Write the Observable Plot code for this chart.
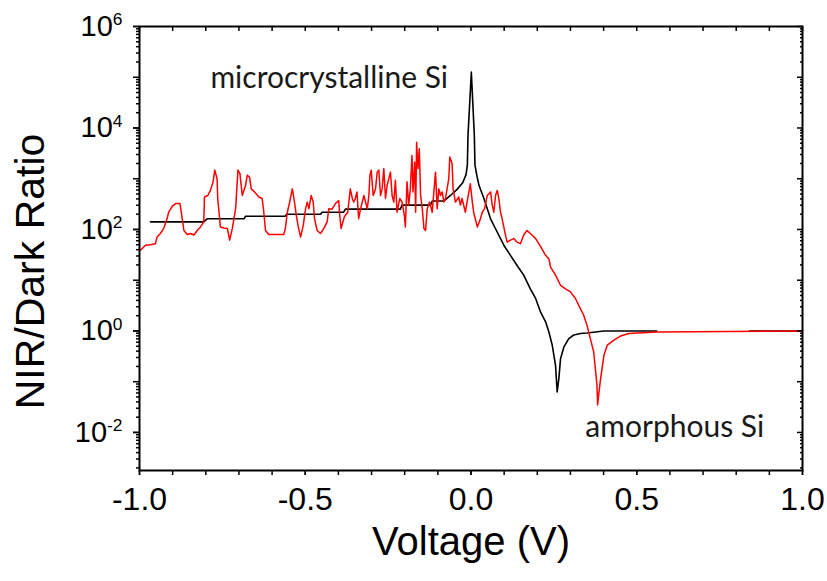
<!DOCTYPE html>
<html><head><meta charset="utf-8">
<script src="https://cdn.jsdelivr.net/npm/d3@7"></script>
<script src="https://cdn.jsdelivr.net/npm/@observablehq/plot@0.6"></script>
<style>body{margin:0;background:#fff}</style>
</head><body><div id="chart"></div>
<script>
// Voltage (V) and log10(NIR/Dark ratio)
const amorphousSi = [
[-0.997,1.59],[-0.982,1.69],[-0.967,1.70],[-0.952,1.72],[-0.947,1.85],[-0.937,1.92],[-0.927,2.02],[-0.917,2.21],[-0.912,2.34],[-0.901,2.46],
[-0.891,2.51],[-0.878,2.51],[-0.874,2.34],[-0.866,1.98],[-0.856,1.90],[-0.846,1.92],[-0.836,1.89],[-0.826,1.98],[-0.816,2.05],[-0.806,2.15],
[-0.804,2.64],[-0.794,2.67],[-0.786,2.77],[-0.778,2.94],[-0.773,3.17],[-0.766,3.00],[-0.764,2.61],[-0.756,2.05],[-0.746,2.03],[-0.735,2.02],
[-0.728,1.79],[-0.720,2.02],[-0.710,2.41],[-0.703,3.17],[-0.697,3.10],[-0.690,2.67],[-0.680,2.87],[-0.675,3.07],[-0.668,3.03],[-0.663,2.80],
[-0.653,2.74],[-0.640,2.64],[-0.630,2.61],[-0.625,2.34],[-0.620,1.98],[-0.610,1.90],[-0.585,1.90],[-0.565,1.90],[-0.560,2.02],[-0.554,2.34],
[-0.547,2.54],[-0.539,2.80],[-0.534,2.61],[-0.527,2.28],[-0.521,2.05],[-0.514,1.85],[-0.506,2.08],[-0.499,2.41],[-0.494,2.54],[-0.489,2.41],
[-0.482,2.67],[-0.476,2.54],[-0.472,2.21],[-0.464,1.98],[-0.454,1.92],[-0.444,2.02],[-0.434,2.15],[-0.429,2.41],[-0.419,2.40],[-0.409,2.51],
[-0.399,2.57],[-0.396,2.28],[-0.392,2.02],[-0.382,2.25],[-0.372,2.34],[-0.364,2.80],[-0.358,2.61],[-0.354,2.54],[-0.349,2.61],[-0.344,2.74],
[-0.339,2.21],[-0.333,2.41],[-0.323,2.67],[-0.318,2.54],[-0.313,2.41],[-0.308,2.67],[-0.305,3.07],[-0.301,3.17],[-0.295,2.67],[-0.288,2.80],
[-0.283,3.13],[-0.278,3.17],[-0.273,2.67],[-0.268,2.80],[-0.263,3.20],[-0.258,2.61],[-0.253,2.87],[-0.248,3.00],[-0.243,3.13],[-0.238,2.67],
[-0.233,2.54],[-0.228,2.97],[-0.223,2.34],[-0.215,2.61],[-0.208,2.54],[-0.201,2.28],[-0.198,2.05],[-0.193,2.94],[-0.188,2.48],[-0.183,2.80],
[-0.178,3.46],[-0.175,2.74],[-0.170,3.33],[-0.167,2.34],[-0.164,3.72],[-0.160,3.20],[-0.156,3.59],[-0.152,2.67],[-0.147,2.41],[-0.142,2.02],
[-0.137,1.98],[-0.132,2.41],[-0.125,2.54],[-0.117,2.34],[-0.112,2.74],[-0.107,3.13],[-0.102,2.41],[-0.097,2.80],[-0.092,2.67],[-0.087,2.74],
[-0.082,2.54],[-0.077,2.61],[-0.067,3.00],[-0.064,3.43],[-0.057,3.30],[-0.054,2.80],[-0.047,2.54],[-0.037,2.64],[-0.032,2.48],[-0.027,2.61],
[-0.017,2.34],[-0.010,2.61],[-0.002,2.90],[0.004,2.54],[0.008,2.34],[0.019,2.05],[0.027,2.18],[0.034,2.34],[0.041,2.41],[0.049,2.67],
[0.059,2.74],[0.064,2.48],[0.069,2.34],[0.074,2.67],[0.079,2.77],[0.084,2.61],[0.089,2.34],[0.094,2.21],[0.104,1.89],[0.109,1.75],
[0.119,1.79],[0.129,1.82],[0.139,1.75],[0.149,1.72],[0.159,1.89],[0.169,1.98],[0.179,1.92],[0.195,1.82],[0.210,1.66],[0.225,1.49],
[0.235,1.42],[0.240,1.26],[0.255,1.10],[0.270,0.90],[0.285,0.83],[0.300,0.77],[0.315,0.64],[0.330,0.44],[0.340,0.31],[0.350,0.11],
[0.360,-0.15],[0.370,-0.41],[0.375,-0.74],[0.380,-1.07],[0.382,-1.46],[0.385,-1.27],[0.391,-0.94],[0.401,-0.48],[0.411,-0.28],[0.431,-0.18],
[0.451,-0.10],[0.476,-0.05],[0.561,-0.02],[1.000,0.00]
];
const microcrystallineSi = [
[-0.967,2.15],[-0.806,2.15],[-0.796,2.21],[-0.685,2.21],[-0.680,2.26],[-0.561,2.26],[-0.556,2.30],[-0.454,2.30],[-0.449,2.34],[-0.384,2.34],
[-0.379,2.40],[-0.213,2.40],[-0.208,2.48],[-0.122,2.48],[-0.117,2.56],[-0.082,2.56],[-0.062,2.67],[-0.042,2.79],[-0.025,2.92],[-0.015,3.08],
[-0.011,3.27],[-0.009,3.86],[0.001,5.10],[0.010,3.86],[0.012,3.27],[0.018,3.05],[0.024,2.87],[0.039,2.61],[0.059,2.21],[0.079,1.95],
[0.099,1.69],[0.119,1.49],[0.139,1.29],[0.159,1.10],[0.179,0.83],[0.195,0.64],[0.210,0.37],[0.225,0.18],[0.235,-0.02],[0.245,-0.28],
[0.255,-0.68],[0.260,-1.20],[0.265,-0.94],[0.270,-0.55],[0.280,-0.32],[0.295,-0.15],[0.310,-0.08],[0.330,-0.05],[0.350,-0.04],[0.401,0.00],
[0.560,0.00],[0.700,null],[0.840,0.00],[1.000,0.00]
];
const xTickLabels = [-1.0, -0.5, 0.0, 0.5, 1.0];
const yTickLabelExps = [-2, 0, 2, 4, 6];
const annotations = [
  {label: "microcrystalline Si", v: -0.786, e: 4.97},
  {label: "amorphous Si", v: 0.345, e: -1.90}
];

const toRows = (arr, series) => arr.map(([v, e]) => ({v, r: e == null ? NaN : 10 ** e, series}));
const redRows = toRows(amorphousSi, "amorphous");
const blackRows = toRows(microcrystallineSi, "micro");

const xMinor = d3.range(-10, 11).map(i => i / 10);
const yDecades = d3.range(-2, 7).map(k => 10 ** k);
const yMinor = [];
for (let k = -3; k <= 5; k++) for (let m = 2; m <= 9; m++) {
  const v = m * 10 ** k;
  if (v > 10 ** -2.75 && v < 1e6) yMinor.push(v);
}
const blank = () => "";
const tw = 1.5;

const chart = Plot.plot({
  width: 827, height: 581,
  marginLeft: 139, marginRight: 25, marginTop: 26, marginBottom: 111,
  style: {fontFamily: "'Liberation Sans', Arial, sans-serif", background: "white", color: "black"},
  x: {domain: [-1, 1]},
  y: {type: "log", domain: [10 ** -2.75, 1e6]},
  marks: [
    Plot.line(blackRows, {x: "v", y: "r", stroke: "black", strokeWidth: 1.6}),
    Plot.line(redRows, {x: "v", y: "r", stroke: "#ff0000", strokeWidth: 1.5}),
    Plot.frame({stroke: "black", strokeWidth: 2}),
    Plot.axisX({ticks: xMinor, tickSize: 5, tickFormat: blank, label: null, strokeWidth: tw}),
    Plot.axisX({ticks: xTickLabels, tickSize: 5, tickPadding: 12, fontSize: 32, tickFormat: d => d.toFixed(1), label: null, strokeWidth: tw}),
    Plot.axisX({anchor: "top", ticks: xMinor, tickSize: -4, tickFormat: blank, label: null, strokeWidth: tw}),
    Plot.axisY({ticks: yDecades, tickSize: 6, tickFormat: blank, label: null, strokeWidth: tw}),
    Plot.axisY({ticks: yMinor, tickSize: 3, tickFormat: blank, label: null, strokeWidth: tw}),
    Plot.axisY({ticks: yTickLabelExps.map(e => 10 ** e), tickSize: 6, tickPadding: 11, fontSize: 29,
      tickFormat: d => "10^" + Math.round(Math.log10(d)), label: null, strokeWidth: tw}),
    Plot.axisY({anchor: "right", ticks: yDecades, tickSize: -6, tickFormat: blank, label: null, strokeWidth: tw}),
    Plot.axisY({anchor: "right", ticks: yMinor, tickSize: -3, tickFormat: blank, label: null, strokeWidth: tw}),
    Plot.text(["Voltage (V)"], {frameAnchor: "bottom", dy: 84, fontSize: 40}),
    Plot.text(["NIR/Dark Ratio"], {frameAnchor: "left", textAnchor: "middle", dx: -109, dy: 23, rotate: -90, fontSize: 41}),
    Plot.text(annotations, {x: "v", y: d => 10 ** d.e, text: "label", textAnchor: "start", fontFamily: "Lato", fontSize: 30, fill: "#1a1a1a"})
  ]
});

d3.select(chart).selectAll('g[aria-label="y-axis tick label"] text').each(function () {
  const s = this.textContent;
  if (!s.startsWith("10^")) return;
  const e = s.slice(3);
  this.textContent = "10";
  d3.select(this).append("tspan").attr("dy", "-0.6em").attr("font-size", "0.6em").text(e);
});

document.getElementById("chart").appendChild(chart);
</script>
</body></html>
